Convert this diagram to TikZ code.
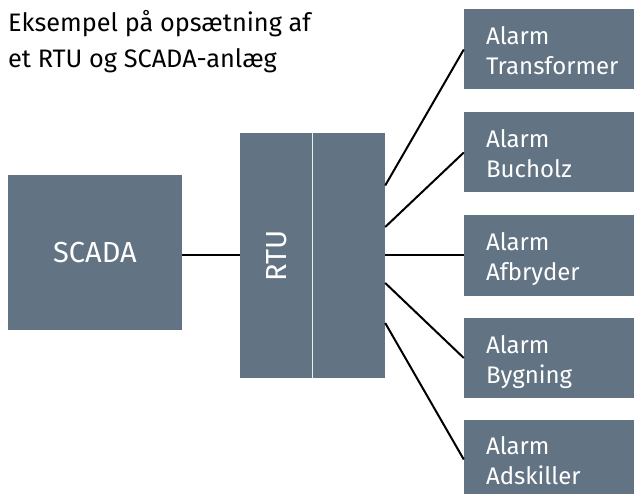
\documentclass[tikz,border=0pt]{standalone}
\usepackage{fontspec}
\setmainfont{Fira Sans}
\usepackage{xcolor}
\usepackage{tikz}
\usetikzlibrary{positioning}

\definecolor{boxgray}{HTML}{627383}
\tikzset{
	unitbox/.style={fill=boxgray, draw=none, inner sep=0pt},
	alarmbox/.style={unitbox, minimum width=170pt, minimum height=80pt},
	boxtext/.style={text=white, font=\fontsize{24}{30}\selectfont, align=left, anchor=base west, inner sep=0pt},
	bigtext/.style={text=white, font=\fontsize{29}{35}\selectfont, inner sep=0pt},
	wire/.style={line width=2pt, black},
}

\begin{document}
\begin{tikzpicture}[x=1pt, y=-1pt]
			\path[use as bounding box, clip] (0, 0) rectangle (634, 494);
			% Title:
			\node[font=\fontsize{25.3}{36}\selectfont, align=left, anchor=base west, inner sep=0pt](title) at (8, 68){Eksempel på opsætning af\\et RTU og SCADA-anlæg};
			% Boxes:
			\node[unitbox, minimum width=174pt, minimum height=155pt](scada) at (95, 252.5){};
			\node[bigtext](scadatext) at (scada.center){SCADA};
			\node[unitbox, minimum width=145pt, minimum height=245pt](rtu) at (312.5, 255.5){};
			\node[bigtext, rotate=90](rtutext) at (276.5, 256){RTU};
			\draw[draw=white!88!boxgray, line width=1.5pt] (rtu.north) -- (rtu.south);
			\node[alarmbox](a1) at (549, 49.5){};
			\node[alarmbox](a2) at (549, 152.5){};
			\node[alarmbox](a3) at (549, 255.5){};
			\node[alarmbox](a4) at (549, 358){};
			\node[alarmbox](a5) at (549, 459.5){};
			\node[boxtext](t1) at ([xshift=22pt, yshift=-65.5pt]a1.north west){Alarm\\Transformer};
			\node[boxtext](t2) at ([xshift=22pt, yshift=-65.5pt]a2.north west){Alarm\\Bucholz};
			\node[boxtext](t3) at ([xshift=22pt, yshift=-65.5pt]a3.north west){Alarm\\Afbryder};
			\node[boxtext](t4) at ([xshift=22pt, yshift=-65.5pt]a4.north west){Alarm\\Bygning};
			\node[boxtext](t5) at ([xshift=22pt, yshift=-65.5pt]a5.north west){Alarm\\Adskiller};
			% Wires:
			\draw[wire] (rtu.west) -- (rtu.west -| scada.east);
			\draw[wire] ([yshift=70pt]rtu.east) -- (a1.west);
			\draw[wire] ([yshift=28.5pt]rtu.east) -- (a2.west);
			\draw[wire] (rtu.east) -- (a3.west);
			\draw[wire] ([yshift=-27.5pt]rtu.east) -- (a4.west);
			\draw[wire] ([yshift=-67.5pt]rtu.east) -- (a5.west);
\end{tikzpicture}
\end{document}
